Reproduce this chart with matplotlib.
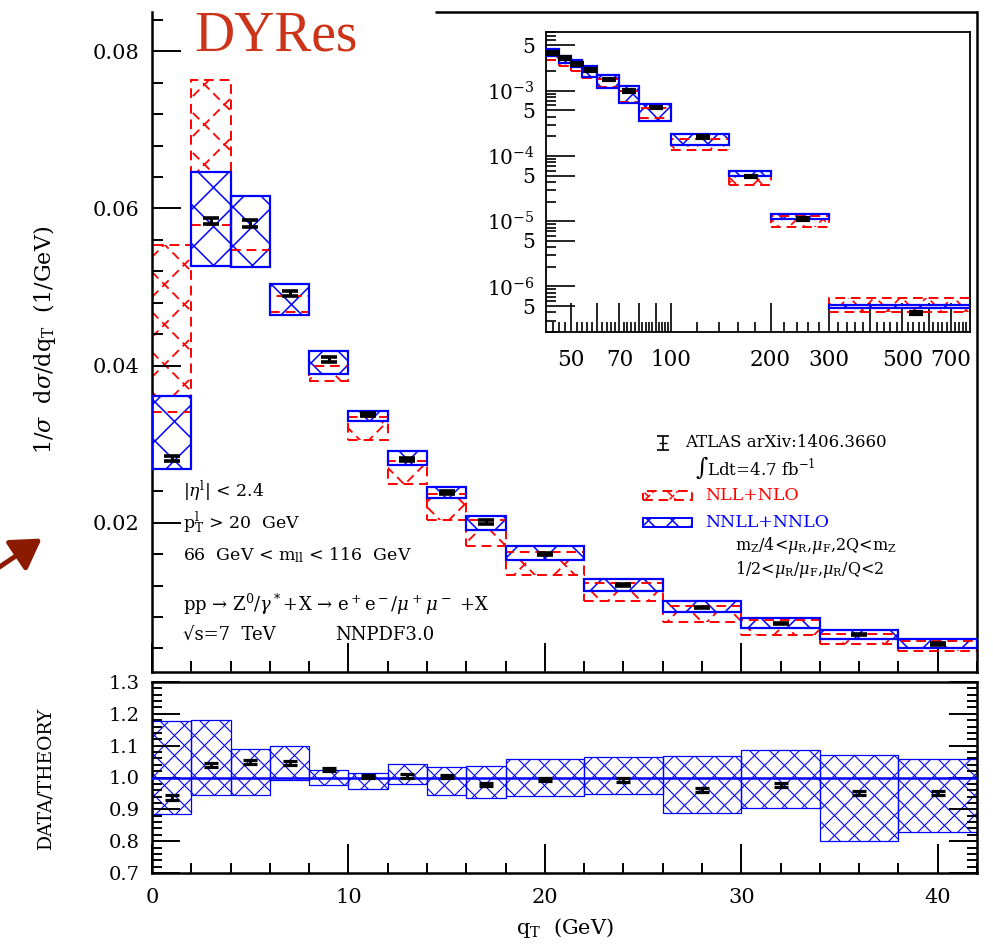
import numpy as np
import matplotlib
matplotlib.use("Agg")
import matplotlib.pyplot as plt
from matplotlib.path import Path
from matplotlib.patches import PathPatch, FancyArrowPatch
from matplotlib.collections import LineCollection
from matplotlib.ticker import MultipleLocator, FixedLocator, FixedFormatter, NullFormatter, FormatStrFormatter

plt.rcParams['font.family'] = 'DejaVu Serif'
plt.rcParams['mathtext.fontset'] = 'dejavuserif'

FIG_W, FIG_H = 993, 952

# ---- main panel: q_T bins (GeV) ----
edges = [0, 2, 4, 6, 8, 10, 12, 14, 16, 18, 22, 26, 30, 34, 38, 42]
atlas = [0.0282, 0.0584, 0.0581, 0.0492, 0.0408, 0.0338, 0.0281, 0.0238, 0.0201,
         0.0160, 0.0121, 0.0092, 0.0072, 0.0058, 0.0046]
atlas_err = [0.0003, 0.0004, 0.0004, 0.0003, 0.0003, 0.0002, 0.0002, 0.0002, 0.0002,
             0.00015, 0.00012, 0.0001, 0.0001, 0.0001, 0.0001]
nnll_hi = [0.0361, 0.0646, 0.0616, 0.0504, 0.0418, 0.0342, 0.0291, 0.0246, 0.0208,
           0.0171, 0.0129, 0.0100, 0.0079, 0.0064, 0.0052]
nnll_lo = [0.0268, 0.0527, 0.0525, 0.0465, 0.0389, 0.0330, 0.0274, 0.0232, 0.0191,
           0.0153, 0.0113, 0.0086, 0.0066, 0.0052, 0.0040]
nll_hi = [0.0553, 0.0764, 0.0616, 0.0488, 0.0400, 0.0334, 0.0279, 0.0237, 0.0203,
          0.0163, 0.0123, 0.0094, 0.0076, 0.0059, 0.0049]
nll_lo = [0.0341, 0.0579, 0.0547, 0.0468, 0.0381, 0.0305, 0.0249, 0.0203, 0.0170,
          0.0133, 0.0100, 0.0074, 0.0057, 0.0046, 0.0037]

# ---- ratio panel ----
ratio = [0.937, 1.040, 1.049, 1.045, 1.024, 1.004, 1.005, 1.002, 0.977,
         0.993, 0.992, 0.960, 0.977, 0.951, 0.951]
ratio_err = [0.008, 0.006, 0.006, 0.006, 0.005, 0.005, 0.005, 0.005, 0.005,
             0.005, 0.005, 0.006, 0.006, 0.007, 0.007]
ratio_hi = [1.179, 1.182, 1.088, 1.099, 1.024, 1.015, 1.043, 1.033, 1.037,
            1.058, 1.064, 1.067, 1.087, 1.072, 1.059]
ratio_lo = [0.885, 0.944, 0.944, 0.992, 0.976, 0.965, 0.979, 0.944, 0.936,
            0.941, 0.949, 0.888, 0.903, 0.802, 0.829]

# ---- inset: high q_T tail ----
edges_in = [42, 46, 50, 54, 60, 70, 80, 100, 150, 200, 300, 800]
atlas_in = [3.8e-3, 3.2e-3, 2.6e-3, 2.1e-3, 1.5e-3, 1.0e-3, 5.6e-4, 1.95e-4, 4.9e-5, 1.08e-5, 3.9e-7]
nnll_in_hi = [4.45e-3, 3.45e-3, 3.0e-3, 2.4e-3, 1.78e-3, 1.18e-3, 6.4e-4, 2.16e-4, 5.8e-5, 1.31e-5, 5.2e-7]
nnll_in_lo = [3.45e-3, 2.7e-3, 2.3e-3, 1.66e-3, 1.1e-3, 6.6e-4, 3.5e-4, 1.5e-4, 5.0e-5, 1.08e-5, 4.6e-7]
nll_in_hi = [3.9e-3, 3.1e-3, 2.6e-3, 2.1e-3, 1.5e-3, 1.0e-3, 5.4e-4, 1.8e-4, 4.9e-5, 1.2e-5, 6.6e-7]
nll_in_lo = [3.0e-3, 2.4e-3, 2.05e-3, 1.6e-3, 1.15e-3, 6.8e-4, 3.8e-4, 1.22e-4, 3.55e-5, 8.2e-6, 4.1e-7]

BLUE, RED = '#0000ff', '#ff0000'


def bins_path(e, lo, hi):
    verts, codes = [], []
    for a, b, l, h in zip(e[:-1], e[1:], lo, hi):
        verts += [(a, l), (b, l), (b, h), (a, h), (a, l)]
        codes += [Path.MOVETO, Path.LINETO, Path.LINETO, Path.LINETO, Path.CLOSEPOLY]
    return Path(verts, codes)


def hatch(ax, clip, spacing, color, lw, ls='-', z=2):
    # 45 degree cross hatch in pixel space, clipped to a patch
    bb = ax.get_position()
    wpx, hpx = bb.width * FIG_W, bb.height * FIG_H
    segs = []
    for c in np.arange(-wpx, wpx + hpx, spacing):
        segs.append([(0, c / hpx), (1, (c + wpx) / hpx)])
        segs.append([(0, (c + wpx) / hpx), (1, c / hpx)])
    lc = LineCollection(segs, transform=ax.transAxes, colors=color,
                        linewidths=lw, linestyles=ls, zorder=z)
    lc.set_clip_path(clip)
    ax.add_collection(lc, autolim=False)


def band(ax, e, lo, hi, color, spacing, lw, hlw, dashed=False, white=False, z=1):
    path = bins_path(e, lo, hi)
    ls = (0, (5, 3)) if dashed else '-'
    clip = PathPatch(path, transform=ax.transData, fc='none', ec='none')
    if white:
        ax.add_patch(PathPatch(path, fc='white', ec='none', zorder=z))
    hatch(ax, clip, spacing, color, hlw, ls, z + 0.1)
    ax.add_patch(PathPatch(path, fc='none', ec=color, lw=lw, ls=ls, zorder=z + 1.5))


fig = plt.figure(figsize=(FIG_W / 100, FIG_H / 100), dpi=100)
main = fig.add_axes([152 / FIG_W, 1 - 672 / FIG_H, 825 / FIG_W, 660 / FIG_H])
rat = fig.add_axes([152 / FIG_W, 1 - 873 / FIG_H, 825 / FIG_W, 191 / FIG_H])
ins = fig.add_axes([546 / FIG_W, 1 - 332 / FIG_H, 424 / FIG_W, 300 / FIG_H])

centers = [(a + b) / 2 for a, b in zip(edges[:-1], edges[1:])]
centers_in = [(a + b) / 2 for a, b in zip(edges_in[:-1], edges_in[1:])]

# ---------------- main panel ----------------
main.set_xlim(0, 42)
main.set_ylim(0.001, 0.085)
band(main, edges, nll_lo, nll_hi, RED, 40, 1.4, 1.3, dashed=True, z=1)
band(main, edges, nnll_lo, nnll_hi, BLUE, 39, 1.6, 1.1, white=True, z=2)
main.errorbar(centers, atlas, yerr=atlas_err, fmt='none', ecolor='black',
              elinewidth=2.2, capsize=6, capthick=2.6, zorder=10)

for s in ['left', 'bottom', 'right']:
    main.spines[s].set_linewidth(1.8)
main.spines['top'].set_visible(False)
main.plot([(435 - 152) / 825, 1], [1, 1], transform=main.transAxes, color='black',
          lw=1.8, clip_on=False, solid_capstyle='butt')
main.xaxis.set_major_locator(MultipleLocator(10))
main.xaxis.set_minor_locator(MultipleLocator(2))
main.yaxis.set_major_locator(MultipleLocator(0.02))
main.yaxis.set_minor_locator(MultipleLocator(0.004))
main.yaxis.set_major_formatter(FormatStrFormatter('%.2f'))
main.tick_params(which='both', direction='in', top=False, right=False, labelbottom=False, width=1.4)
main.tick_params(which='major', length=21, labelsize=15, pad=9)
main.tick_params(which='minor', length=8)

main.text(0.052, 0.942, 'DYRes', transform=main.transAxes, fontsize=40,
          family='Liberation Serif', color='#cc3318', va='baseline')

fs = 12.5
main.text(0.037, 0.273, r'|$\eta^\mathrm{l}$| < 2.4', transform=main.transAxes, fontsize=fs, va='center')
main.text(0.037, 0.226, r'p$_\mathrm{T}^\mathrm{l}$ > 20  GeV', transform=main.transAxes, fontsize=fs, va='center')
main.text(0.037, 0.177, r'66  GeV < m$_\mathrm{ll}$ < 116  GeV', transform=main.transAxes, fontsize=fs, va='center')
main.text(0.037, 0.103, r'pp → Z$^0$/$\gamma^*$+X → e$^+$e$^-$/$\mu^+\mu^-$ +X',
          transform=main.transAxes, fontsize=13, va='center')
main.text(0.037, 0.056, '√s=7  TeV', transform=main.transAxes, fontsize=13, va='center')
main.text(0.222, 0.056, 'NNPDF3.0', transform=main.transAxes, fontsize=13, va='center')

# legend, drawn by hand
main.errorbar([0.619], [0.347], yerr=[0.011], transform=main.transAxes, fmt='_', color='black',
              ms=6, elinewidth=1.2, capsize=4, capthick=1.2, clip_on=False)
main.text(0.646, 0.347, 'ATLAS arXiv:1406.3660', transform=main.transAxes, fontsize=12, va='center')
main.text(0.658, 0.309, r'$\int$Ldt=4.7 fb$^{-1}$', transform=main.transAxes, fontsize=12, va='center')
for y0, col, lab, dashed in [(0.261, RED, 'NLL+NLO', True), (0.220, BLUE, 'NNLL+NNLO', False)]:
    box = Path([(0.595, y0), (0.655, y0), (0.655, y0 + 0.014), (0.595, y0 + 0.014), (0.595, y0)],
               [Path.MOVETO, Path.LINETO, Path.LINETO, Path.LINETO, Path.CLOSEPOLY])
    clip = PathPatch(box, transform=main.transAxes, fc='none', ec='none')
    hatch(main, clip, 24, col, 1.1, (0, (4, 2)) if dashed else '-', 5)
    main.add_patch(PathPatch(box, transform=main.transAxes, fc='none', ec=col, lw=1.4,
                             ls=(0, (5, 3)) if dashed else '-', zorder=6))
    main.text(0.670, y0 + 0.007, lab, transform=main.transAxes, fontsize=12.5, color=col, va='center')
main.text(0.707, 0.192, r'm$_\mathrm{Z}$/4<$\mu_\mathrm{R}$,$\mu_\mathrm{F}$,2Q<m$_\mathrm{Z}$',
          transform=main.transAxes, fontsize=11.5, va='center')
main.text(0.707, 0.155, r'1/2<$\mu_\mathrm{R}$/$\mu_\mathrm{F}$,$\mu_\mathrm{R}$/Q<2',
          transform=main.transAxes, fontsize=11.5, va='center')

# ---------------- ratio panel ----------------
rat.set_xlim(0, 42)
rat.set_ylim(0.7, 1.3)
band(rat, edges, ratio_lo, ratio_hi, BLUE, 20, 0.9, 0.8, z=1)
rat.axhline(1.0, color=BLUE, lw=1.8, zorder=4)
rat.errorbar(centers, ratio, yerr=ratio_err, fmt='none', ecolor='black',
             elinewidth=2.0, capsize=5, capthick=2.3, zorder=10)
for s in rat.spines.values():
    s.set_linewidth(1.8)
rat.xaxis.set_major_locator(MultipleLocator(10))
rat.xaxis.set_minor_locator(MultipleLocator(2))
rat.yaxis.set_major_locator(MultipleLocator(0.1))
rat.yaxis.set_minor_locator(MultipleLocator(0.02))
rat.yaxis.set_major_formatter(FormatStrFormatter('%.1f'))
rat.tick_params(which='both', direction='in', right=True, top=False, width=1.4)
rat.tick_params(which='major', length=20, labelsize=14)
rat.tick_params(axis='x', which='major', length=21, labelsize=15, pad=11)
rat.tick_params(axis='y', which='major', pad=9)
rat.tick_params(which='minor', length=7)
rat.set_xlabel(r'q$_\mathrm{T}$  (GeV)', fontsize=15, labelpad=6)

# ---------------- inset ----------------
ins.set_xscale('log')
ins.set_yscale('log')
ins.set_xlim(42, 800)
ins.set_ylim(2e-7, 8e-3)
band(ins, edges_in, nll_in_lo, nll_in_hi, RED, 26, 1.4, 1.2, dashed=True, z=1)
band(ins, edges_in, nnll_in_lo, nnll_in_hi, BLUE, 25, 1.6, 1.1, white=True, z=2)
ins.errorbar(centers_in, atlas_in, yerr=[v * 0.025 for v in atlas_in], fmt='none', ecolor='black',
             elinewidth=2.5, capsize=5, capthick=3, zorder=10)
for s in ins.spines.values():
    s.set_linewidth(1.3)

xmaj = [50, 60, 70, 80, 90, 100, 200, 300, 400, 500, 600, 700]
xlab = ['50', '', '70', '', '', '100', '200', '300', '', '500', '', '700']
ins.xaxis.set_major_locator(FixedLocator(xmaj))
ins.xaxis.set_major_formatter(FixedFormatter(xlab))
ins.xaxis.set_minor_locator(FixedLocator([v for v in range(44, 100, 2) if v % 10]
                                         + [v for v in range(120, 800, 20) if v % 100]))
ins.xaxis.set_minor_formatter(NullFormatter())

ymaj = [5e-7, 1e-6, 5e-6, 1e-5, 5e-5, 1e-4, 5e-4, 1e-3, 5e-3]
ylab = ['5', r'$10^{-6}$', '5', r'$10^{-5}$', '5', r'$10^{-4}$', '5', r'$10^{-3}$', '5']
ins.yaxis.set_major_locator(FixedLocator(ymaj))
ins.yaxis.set_major_formatter(FixedFormatter(ylab))
ins.yaxis.set_minor_locator(FixedLocator([k * 10.0 ** e for e in range(-7, -2)
                                          for k in (2, 3, 4, 6, 7, 8, 9)]))
ins.yaxis.set_minor_formatter(NullFormatter())
ins.tick_params(which='both', direction='in', width=1.2, top=False, right=False)
ins.tick_params(which='major', length=21, labelsize=14.5)
ins.tick_params(axis='y', which='major', pad=8)
ins.tick_params(axis='x', which='major', pad=12, labelsize=15.5)
ins.tick_params(which='minor', length=7)

# axis titles
fig.text(45 / FIG_W, 1 - 340 / FIG_H, r'1/$\sigma$  d$\sigma$/dq$_\mathrm{T}$  (1/GeV)',
         rotation=90, fontsize=16, ha='center', va='center')
fig.text(45 / FIG_W, 1 - 778 / FIG_H, 'DATA/THEORY', rotation=90, fontsize=13.5,
         ha='center', va='center')

# cropped arrow at the left edge
fig.add_artist(FancyArrowPatch((-5 / FIG_W, 1 - 570 / FIG_H), (44 / FIG_W, 1 - 537 / FIG_H),
                               transform=fig.transFigure, arrowstyle='-|>,head_length=0.9,head_width=0.55',
                               mutation_scale=20, color='#8b1a00', lw=3.5))

fig.savefig('out.png', dpi=100)
